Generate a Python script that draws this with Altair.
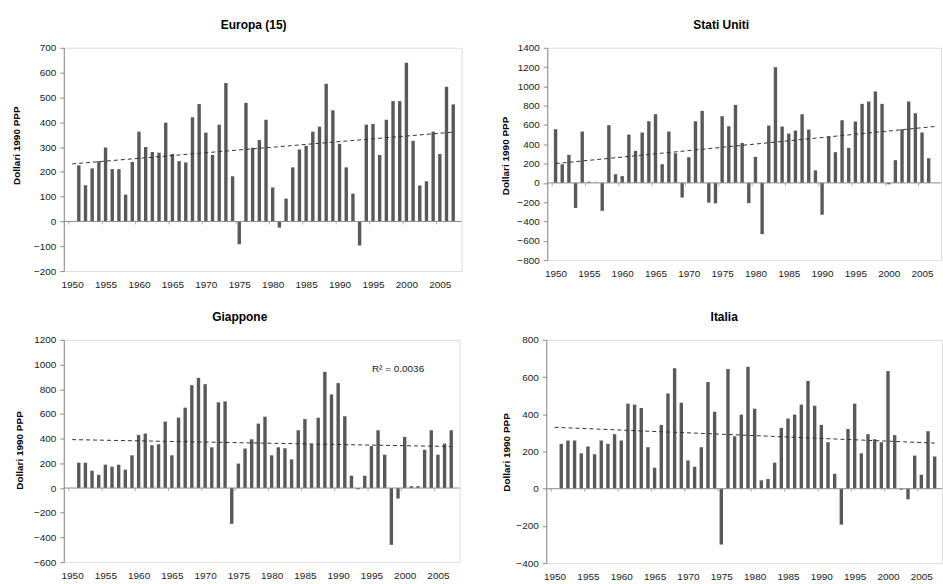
import altair as alt
import pandas as pd

# ---------------- data ----------------
years_from_1951 = list(range(1951, 2008))
years_us = list(range(1950, 2007))

europa = [226, 146, 214, 243, 298, 211, 211, 108, 240, 362,
          300, 280, 277, 398, 272, 243, 238, 420, 473, 358,
          268, 390, 558, 182, -92, 478, 297, 328, 410, 137,
          -25, 92, 218, 290, 305, 362, 382, 555, 448, 313,
          218, 112, -97, 390, 393, 268, 410, 485, 485, 640,
          325, 145, 162, 362, 272, 543, 472]

stati_uniti = [556, 193, 290, -259, 532, 12, 5, -290, 598, 90,
               70, 501, 332, 522, 639, 712, 193, 532, 307, -152,
               266, 639, 746, -205, -212, 691, 587, 808, 414, -210,
               270, -531, 594, 1199, 584, 511, 542, 712, 553, 130,
               -330, 480, 318, 649, 363, 636, 819, 843, 947, 819,
               -15, 235, 556, 843, 722, 522, 256]

giappone = [205, 205, 141, 107, 189, 173, 189, 149, 265, 430,
            441, 347, 355, 538, 265, 570, 651, 833, 892, 841,
            330, 694, 702, -290, 198, 320, 395, 522, 578, 265,
            330, 322, 232, 468, 559, 355, 570, 941, 758, 850,
            581, 100, -10, 100, 340, 468, 270, -460, -85, 414,
            15, 15, 310, 468, 270, 360, 468]

italia = [241, 259, 259, 190, 227, 185, 259, 241, 293, 259,
          457, 452, 434, 223, 113, 343, 512, 648, 462, 152,
          118, 223, 573, 414, -300, 643, 282, 398, 655, 430,
          45, 52, 140, 327, 377, 398, 452, 579, 446, 343,
          250, 80, -193, 321, 457, 190, 293, 266, 250, 632,
          288, -5, -57, 178, 75, 309, 173]

# linear trend end points (year 1950 and 2007)
trend_years = [1950, 2007]
trend_europa = [232, 360]
trend_usa = [200, 585]
trend_giappone = [392, 336]
trend_italia = [330, 245]

label_years = [1950, 1955, 1960, 1965, 1970, 1975, 1980, 1985, 1990, 1995, 2000, 2005]
y_title = "Dollari 1990 PPP"

FONT = "Liberation Sans"
BAR = "#595959"
AXIS = "#8c8c8c"


def panel(title, years, values, trend_vals, ydomain, ystep, xdomain, width, height,
          title_dx, ytitle_x, ytitle_y, note=None):
    df = pd.DataFrame({"Anno": years, "Valore": values})
    yvals = list(range(ydomain[0], ydomain[1] + 1, ystep))
    xs = alt.Scale(domain=xdomain, nice=False, zero=False)
    ys = alt.Scale(domain=ydomain, nice=False, zero=False)
    x = alt.X("Anno:Q", scale=xs,
              axis=alt.Axis(values=label_years, format="d", domain=False, ticks=False,
                            grid=False, labelPadding=8, title=None,
                            labelFontSize=10, labelFont=FONT, labelColor="#1a1a1a"))
    y = alt.Y("Valore:Q", scale=ys,
              axis=alt.Axis(values=yvals, format="d", grid=False, title=y_title,
                            domainColor=AXIS, tickColor=AXIS, tickSize=4, labelPadding=4,
                            labelFontSize=10, labelFont=FONT, labelColor="#1a1a1a",
                            titleFont=FONT, titleFontSize=10, titleFontWeight="bold",
                            titleColor="#000000", titleAngle=270, titleX=ytitle_x,
                            titleY=ytitle_y, titleAlign="center", titleBaseline="middle"))

    bars = alt.Chart(df).mark_bar(size=3.4, color=BAR).encode(x=x, y=y)

    zero = alt.Chart(pd.DataFrame({"Valore": [0]})).mark_rule(
        color=AXIS, strokeWidth=1).encode(y=y)

    bounds = pd.DataFrame({"Anno": [v - 0.5 for v in label_years], "Valore": [0] * len(label_years)})
    ticks = alt.Chart(bounds).mark_tick(orient="vertical", size=3, thickness=1,
                                        color=AXIS, yOffset=1.5).encode(x=x, y=y)

    tdf = pd.DataFrame({"Anno": trend_years, "Valore": trend_vals})
    trend = alt.Chart(tdf).mark_line(strokeDash=[4, 3], color="#333333", strokeWidth=1).encode(
        x=x, y=y)

    layers = [bars, zero, ticks, trend]
    if note is not None:
        ndf = pd.DataFrame({"Anno": [note[0]], "Valore": [note[1]], "t": [note[2]]})
        layers.append(alt.Chart(ndf).mark_text(font=FONT, fontSize=10, color="#1a1a1a").encode(
            x=x, y=y, text="t:N"))

    return alt.layer(*layers).properties(
        width=width, height=height,
        title=alt.TitleParams(title, font=FONT, fontSize=12, fontWeight="bold", color="#000000",
                              anchor="middle", frame="group", dx=title_dx, offset=11))


p_eu = panel("Europa (15)", years_from_1951, europa, trend_europa, [-200, 700], 100,
             [1949.5, 2007.5], 399, 224, -9, -47.6, 97.7)
p_us = panel("Stati Uniti", years_us, stati_uniti, trend_usa, [-800, 1400], 200,
             [1949.5, 2007.1], 395, 213, -23, -41.8, 108)
p_jp = panel("Giappone", years_from_1951, giappone, trend_giappone, [-600, 1200], 200,
             [1949.5, 2007.5], 397, 223, -22, -44, 110.5, note=(1999, 960, "R² = 0.0036"))
p_it = panel("Italia", years_from_1951, italia, trend_italia, [-400, 800], 200,
             [1949.5, 2007.35], 397, 224, -20, -39.5, 112.5)

row1 = alt.hconcat(p_eu, p_us, spacing=37)
row2 = alt.hconcat(p_jp, p_it, spacing=41)

chart = alt.vconcat(row1, row2, spacing=20).properties(
    padding={"left": 10, "top": 17, "right": 0, "bottom": 0}
).configure_view(strokeWidth=0).configure(background="white")

chart.save("out.html", embed_options={"renderer": "svg", "actions": False})
